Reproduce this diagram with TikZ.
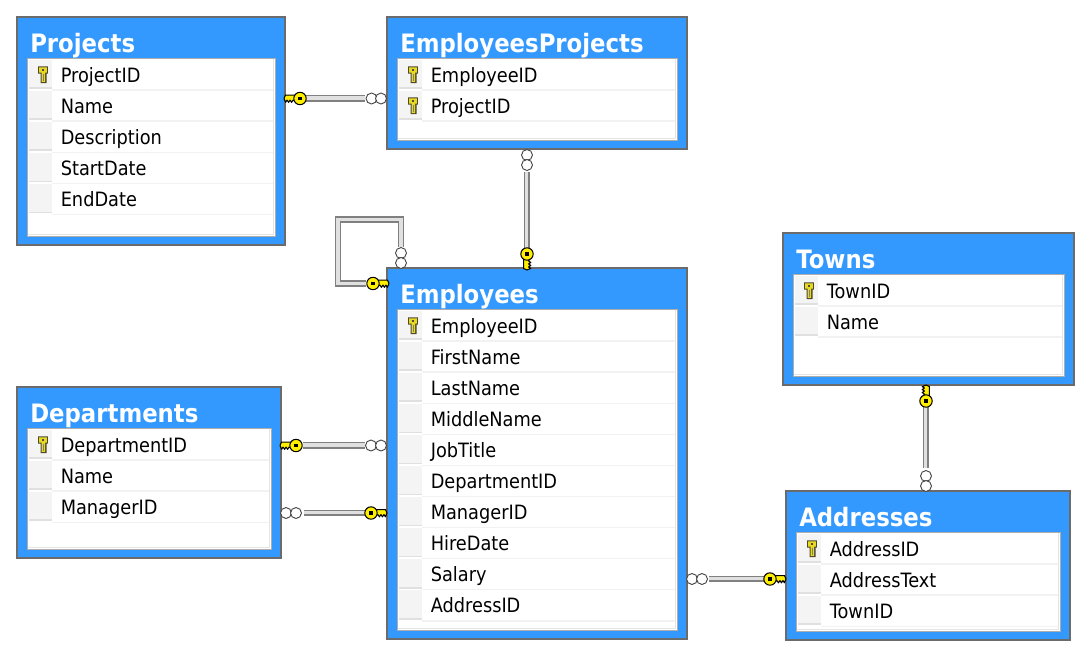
\documentclass[tikz,border=0pt]{standalone}
\usepackage{fontspec}
\setmainfont[FakeStretch=0.9]{DejaVu Sans}
\definecolor{tblue}{HTML}{3399FF}
\definecolor{keyY}{HTML}{FFEE00}
\definecolor{rowkeyY}{HTML}{E8D820}
\definecolor{gutter}{HTML}{F4F4F4}
\definecolor{gutline}{HTML}{E0E0E0}
\tikzset{
  tablebox/.style={draw=black!58,line width=1.1pt,fill=tblue,anchor=north west,inner sep=0pt,outer sep=0pt},
  innerbox/.style={draw=black!32,line width=0.6pt,fill=white},
  titletext/.style={text=white,font=\fontsize{19}{19}\selectfont\bfseries,anchor=base west,inner sep=0pt},
  rowtext/.style={text=black,font=\fontsize{14.8}{15}\selectfont,anchor=base west,inner sep=0pt},
  sepline/.style={draw=black!5,line width=1pt},
  gutterbox/.style={fill=gutter},
  gutterline/.style={draw=gutline,line width=1.1pt},
  barout/.style={draw=black!50,line width=5pt},
  barin/.style={draw=black!12,line width=2.4pt},
  ring/.style={circle,draw=black!72,fill=white,line width=0.7pt,minimum size=8.2pt,inner sep=0pt},
  fkey/.pic={
    \draw[fill=keyY,draw=black,line width=0.8pt,line join=round] (3,-3.4) -- (14.5,-3.4) -- (16,0) -- (14.4,3.8) -- (13,1.6) -- (11.4,3.8) -- (10,1.6) -- (8.4,3.8) -- (7,1.6) -- (3,3.4) -- cycle;
    \draw[fill=keyY,draw=black,line width=0.8pt] (0,0) circle (6.2);
    \fill[black] (-1.6,-1.6) rectangle (1.6,1.6);
  },
  rowkey/.pic={
    \fill[black!60!olive] (-4.8,-8.2) rectangle (4.8,-1) (-2.4,-1.5) rectangle (3.6,8.6);
    \fill[rowkeyY] (-3.8,-7.2) rectangle (3.8,-2) (-1.4,-2.5) rectangle (2.2,7.4);
    \fill[black!70] (-1,-5.6) rectangle (1,-3.8);
    \fill[black!50] (.4,-1) rectangle (.9,6.5);
  }
}
% id x1 y1 x2 y2 title rows
\newcommand{\dbtable}[7]{%
  \pgfmathsetmacro{\tw}{(#4-#2)*0.75}%
  \pgfmathsetmacro{\th}{(#5-#3)*0.75}%
  \node[tablebox,minimum width=\tw pt,minimum height=\th pt] (#1) at (#2,#3) {};
  \draw[innerbox] ({#2+10},{#3+41}) rectangle ({#4-10},{#5-9});
  \draw[draw=black!10,line width=0.9pt] ({#4-11.5},{#3+42}) -- ({#4-11.5},{#5-10.5}) -- ({#2+11},{#5-10.5});
  \node[titletext] (#1-title) at ({#2+13},{#3+35}) {#6};
  \foreach \k/\t [count=\i] in {#7} {
    \pgfmathsetmacro{\ry}{#3+57.5+31.1*(\i-1)}
    \fill[gutterbox] ({#2+12},{\ry-15}) rectangle ({#2+35},{\ry+13});
    \draw[gutterline] ({#2+12},{\ry+13.5}) -- ({#2+35},{\ry+13.5});
    \draw[sepline] ({#2+35},{\ry+15.5}) -- ({#4-12},{\ry+15.5});
    \node[rowtext] (#1-\i) at ({#2+43.5},{\ry+7.5}) {\t};
    \if\k k\path ({#2+26},{\ry}) pic {rowkey};\fi
  }
}
% a b shorten-start shorten-end, canvas shift
\newcommand{\barlink}[6]{%
  \draw[barout,shorten <=#3,shorten >=#4] (#1) -- (#2);
  \draw[barin,shorten <=#3,shorten >=#4,transform canvas={xshift=#5,yshift=#6}] (#1) -- (#2);
}
\begin{document}
\begin{tikzpicture}[x=0.75pt,y=-0.75pt]
\useasboundingbox (0,0) rectangle (1090,657);
\fill[white] (0,0) rectangle (1090,657);

\dbtable{projects}{17}{17}{285}{245}{Projects}{k/ProjectID,n/Name,n/Description,n/StartDate,n/EndDate}
\dbtable{emproj}{387}{17}{687}{149}{EmployeesProjects}{k/EmployeeID,k/ProjectID}
\dbtable{employees}{387}{268}{687}{639}{Employees}{k/EmployeeID,n/FirstName,n/LastName,n/MiddleName,n/JobTitle,n/DepartmentID,n/ManagerID,n/HireDate,n/Salary,n/AddressID}
\dbtable{departments}{17}{387}{281}{558}{Departments}{k/DepartmentID,n/Name,n/ManagerID}
\dbtable{towns}{783}{233}{1074}{385}{Towns}{k/TownID,n/Name}
\dbtable{addresses}{786}{491}{1070}{640}{Addresses}{k/AddressID,n/AddressText,n/TownID}

% Projects -- EmployeesProjects
\coordinate (c1a) at (285,98.5); \coordinate (c1b) at (387,98.5);
\barlink{c1a}{c1b}{15.75pt}{16.5pt}{0pt}{0.4pt}
\path (300,98.5) pic[xscale=-1] {fkey};
\node[ring] (r1a) at (371.5,98.5) {}; \node[ring] (r1b) at (381,98.5) {};

% EmployeesProjects -- Employees
\coordinate (c2a) at (527,149); \coordinate (c2b) at (527,268);
\barlink{c2a}{c2b}{17pt}{15pt}{-0.4pt}{0pt}
\path (527,254) pic[rotate=-90,yscale=-1] {fkey};
\node[ring] (r2a) at (527,155) {}; \node[ring] (r2b) at (527,165) {};

% Employees self loop
\coordinate (c3a) at (401,268); \coordinate (c3c) at (338,219.5); \coordinate (c3b) at (387,283.5);
\draw[barout,line join=miter,shorten <=15.75pt,shorten >=15.75pt] (c3a) |- (c3c) |- (c3b);
\draw[barin,line join=miter,shorten <=15.75pt,shorten >=15.75pt] (c3a) |- (c3c) |- (c3b);
\path (373,283.5) pic {fkey};
\node[ring] (r3a) at (401,253) {}; \node[ring] (r3b) at (401,263) {};

% Departments -- Employees (top)
\coordinate (c4a) at (281,445.5); \coordinate (c4b) at (387,445.5);
\barlink{c4a}{c4b}{16.5pt}{16.5pt}{0pt}{0.4pt}
\path (296,445.5) pic[xscale=-1] {fkey};
\node[ring] (r4a) at (371,445.5) {}; \node[ring] (r4b) at (381,445.5) {};

% Departments -- Employees (bottom)
\coordinate (c5a) at (281,513); \coordinate (c5b) at (387,513);
\barlink{c5a}{c5b}{17pt}{15.75pt}{0pt}{0.4pt}
\path (371,513) pic {fkey};
\node[ring] (r5a) at (286,513) {}; \node[ring] (r5b) at (296,513) {};

% Employees -- Addresses
\coordinate (c6a) at (687,579); \coordinate (c6b) at (786,579);
\barlink{c6a}{c6b}{16.5pt}{16.5pt}{0pt}{0.4pt}
\path (770,579) pic {fkey};
\node[ring] (r6a) at (692,579) {}; \node[ring] (r6b) at (702,579) {};

% Towns -- Addresses
\coordinate (c7a) at (926,385); \coordinate (c7b) at (926,491);
\barlink{c7a}{c7b}{16.5pt}{17pt}{-0.4pt}{0pt}
\path (926,401) pic[rotate=90,yscale=-1] {fkey};
\node[ring] (r7a) at (926,476) {}; \node[ring] (r7b) at (926,486) {};
\end{tikzpicture}
\end{document}
